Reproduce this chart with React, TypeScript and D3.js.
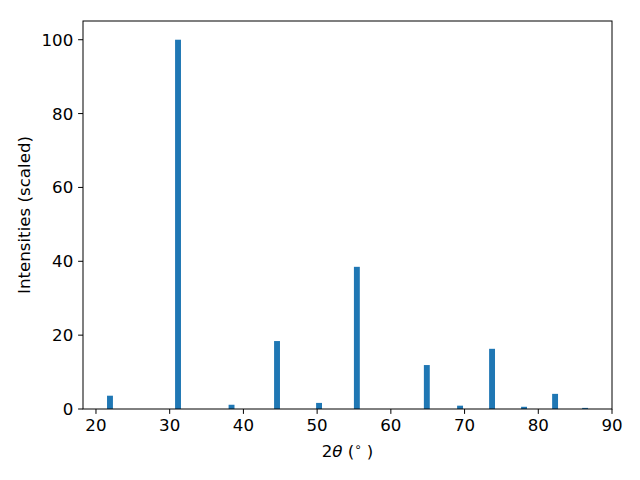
import * as d3 from 'd3'

// peak positions (2θ, degrees) and scaled intensities
const twoTheta = [21.9, 31.13, 38.39, 44.56, 50.26, 55.39, 64.88, 69.39, 73.73, 78.07, 82.28, 86.35]
const intensity = [3.6, 100, 1.15, 18.4, 1.65, 38.5, 11.9, 0.9, 16.3, 0.6, 4.1, 0.3]
const xTicks = [20, 30, 40, 50, 60, 70, 80, 90]
const yTicks = [0, 20, 40, 60, 80, 100]

const BAR_WIDTH = 0.8
const BLUE = '#1f77b4'
const FS = 16.67

export default function App() {
  const width = 640
  const height = 480
  const margin = { top: 21, right: 28, bottom: 71, left: 83 }

  const x = d3.scaleLinear().domain([18.24, 90]).range([margin.left, width - margin.right])
  const y = d3.scaleLinear().domain([0, 105.07]).range([height - margin.bottom, margin.top])

  const font = 'DejaVu Sans, sans-serif'
  const bottom = height - margin.bottom

  return (
    <svg
      width={width}
      height={height}
      style={{ position: 'absolute', left: 0, top: 0, background: '#fff' }}
      fontFamily={font}
    >
      {twoTheta.map((t, i) => (
        <rect
          key={`bar-${i}`}
          x={x(t - BAR_WIDTH / 2)}
          y={y(intensity[i])}
          width={x(t + BAR_WIDTH / 2) - x(t - BAR_WIDTH / 2)}
          height={bottom - y(intensity[i])}
          fill={BLUE}
        />
      ))}

      <rect
        x={margin.left}
        y={margin.top}
        width={width - margin.left - margin.right}
        height={bottom - margin.top}
        fill="none"
        stroke="#000"
        strokeWidth={1}
      />

      {xTicks.map(t => (
        <g key={`xt-${t}`}>
          <line x1={x(t)} x2={x(t)} y1={bottom} y2={bottom + 4.9} stroke="#000" />
          <text x={x(t)} y={bottom + 22.4} textAnchor="middle" fontSize={FS} fill="#000">
            {t}
          </text>
        </g>
      ))}

      {yTicks.map(t => (
        <g key={`yt-${t}`}>
          <line x1={margin.left - 4.9} x2={margin.left} y1={y(t)} y2={y(t)} stroke="#000" />
          <text
            x={margin.left - 9.7}
            y={y(t)}
            dy="0.36em"
            textAnchor="end"
            fontSize={FS}
            fill="#000"
          >
            {t}
          </text>
        </g>
      ))}

      <text x={(margin.left + width - margin.right) / 2} y={457} textAnchor="middle" fontSize={FS} fill="#000">
        2<tspan fontStyle="italic">θ</tspan> (<tspan dy={-6} fontSize={11.7}>∘</tspan>
        <tspan dy={6}> )</tspan>
      </text>

      <text
        transform={`translate(30, ${(margin.top + bottom) / 2}) rotate(-90)`}
        textAnchor="middle"
        fontSize={FS}
        fill="#000"
      >
        Intensities (scaled)
      </text>
    </svg>
  )
}
